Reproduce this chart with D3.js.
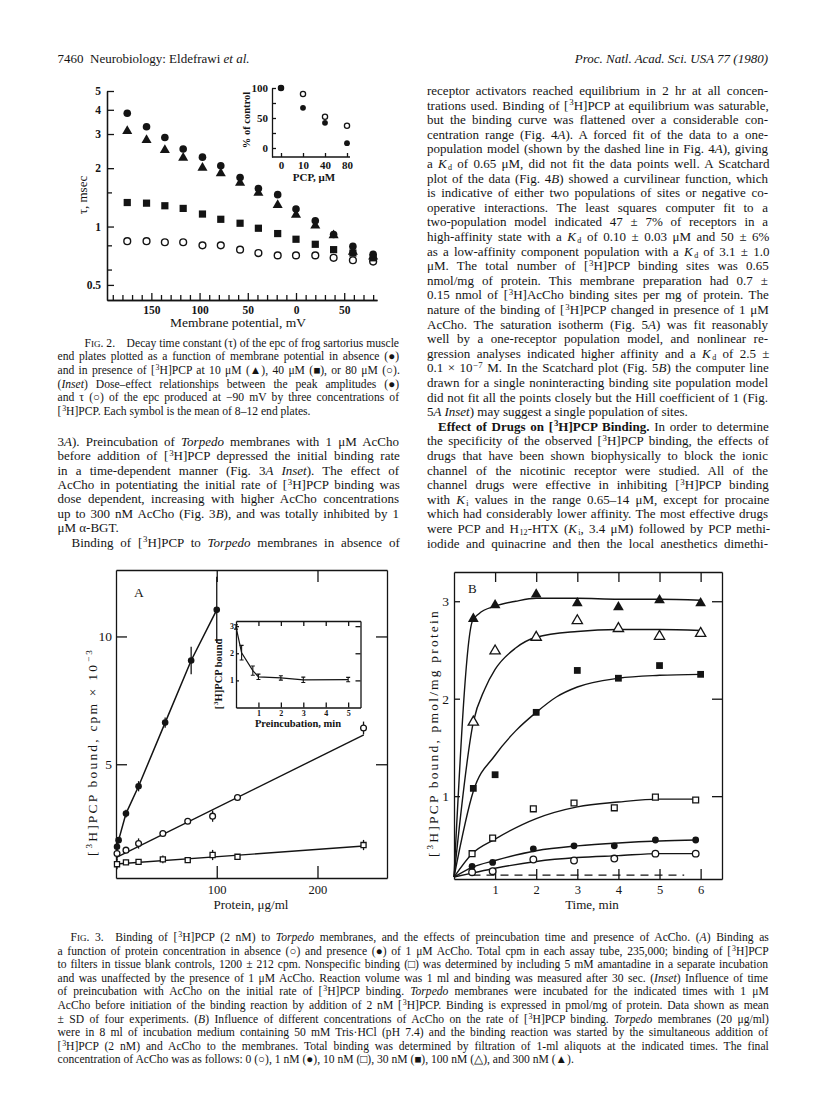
<!DOCTYPE html>
<html><head><meta charset="utf-8">
<script src="https://cdn.jsdelivr.net/npm/d3@7/dist/d3.min.js"></script>
<style>html,body{margin:0;padding:0;background:#fff;} svg{display:block;}</style>
</head><body>
<svg id="page" width="816" height="1109" xmlns="http://www.w3.org/2000/svg"></svg>
<script>
// ================= DATA =================
// Fig. 2: decay time constant tau (msec) vs membrane potential (mV)
const fig2Potential = [-175,-155,-136,-117,-97,-78,-58,-39,-19,0,20,39,59,80];
const fig2Control   = [3.84,3.27,2.88,2.51,2.28,2.06,1.79,1.57,1.46,1.23,1.07,0.91,0.79,0.72];
const fig2PCP10     = [3.11,2.79,2.48,2.26,2.01,1.88,1.68,1.49,1.29,1.15,1.01,0.90,0.74,0.70];
const fig2PCP40     = [1.33,1.32,1.28,1.24,1.16,1.09,1.04,0.98,0.92,0.86,0.81,0.76,0.73,0.69];
const fig2PCP80     = [0.84,0.84,0.83,0.83,0.80,0.80,0.76,0.73,0.71,0.71,0.71,0.69,0.67,0.66];
const fig2YTicks = [0.5,1,2,3,4,5];
const fig2YMinor = [0.6,0.8,1.5];
const fig2XTicks = [-150,-100,-50,0,50];
// Fig. 2 inset: % of control vs PCP (uM)
const insetDose = ["0","10","40","80"];
const insetAmplitude = [100,67,42,8];
const insetTau = [100,90,52,37];
const insetYTicks = [0,25,50,75,100];

// Fig. 3A: [3H]PCP bound (cpm x 10^-3) vs protein (ug/ml)
const proteinAcCho = [1,2.6,9.9,22.4,48.8,74.6,100];
const boundAcCho   = [1.77,2.03,3.07,4.14,6.63,9.06,11.04];
const sdAcCho      = [0.12,0.12,0.15,0.2,0.2,0.54,1.3];
const proteinCtrl  = [1,9.9,22.4,46.5,71.2,95.9,120.6,245.7];
const boundCtrl    = [1.51,1.64,1.90,2.29,2.77,2.97,3.70,6.42];
const sdCtrl       = [0.25,0.08,0.2,0.08,0.1,0.22,0.1,0.25];
const boundNonspec = [1.09,1.16,1.18,1.28,1.25,1.45,1.38,1.84];
const sdNonspec    = [0.2,0.1,0.1,0.15,0.08,0.2,0.08,0.2];
const fitCtrl      = [[0,1.35],[246,6.15]];
const fitNonspec   = [[0,1.10],[246,1.80]];
const fig3AYTicks = [5,10];
const fig3AXTicks = [100,200];
// Fig. 3A inset: bound vs preincubation (min)
const preincTime  = [0,0.25,0.75,1,2,3,5];
const preincBound = [2.97,2.02,1.36,1.13,1.09,1.02,1.03];
const preincSD    = [0.08,0.27,0.17,0.1,0.08,0.1,0.08];
const insetAXTicks = [1,2,3,4,5];
const insetAYTicks = [1,2,3];

// Fig. 3B: bound (pmol/mg) vs time (min) at AcCho concentrations
const timeUpper = [0.47,1,2,3,4,5,6];
const timeLower = [0.44,0.94,1.93,2.92,3.9,4.9,5.88];
const b300 = [2.82,2.96,3.07,2.98,2.94,3.01,2.98];
const b100 = [1.76,2.49,2.63,2.80,2.72,2.64,2.67];
const b30  = [1.08,1.22,1.86,2.29,2.21,2.34,2.25];
const b10  = [0.41,0.57,0.87,0.93,0.88,0.99,0.96];
const b1   = [0.28,0.32,0.46,0.49,0.49,0.55,0.55];
const b0   = [0.22,0.23,0.35,0.34,0.36,0.41,0.41];
const curve300 = [[0,0.17],[0.45,2.8],[0.6,2.87],[1,2.95],[1.5,3.0],[2,3.03],[3,3.03],[4,3.02],[5,3.02],[6,3.01]];
const curve100 = [[0,0.17],[0.47,1.76],[0.75,2.1],[1,2.3],[1.5,2.52],[2,2.63],[3,2.69],[4,2.71],[5,2.71],[6,2.7]];
const curve30  = [[0,0.17],[0.47,1.05],[1,1.42],[1.5,1.67],[2,1.86],[2.5,2.02],[3,2.12],[4,2.21],[5,2.24],[6,2.25]];
const curve10  = [[0,0.17],[0.44,0.41],[1,0.56],[2,0.77],[3,0.89],[4,0.94],[5,0.97],[5.9,0.97]];
const curve1   = [[0,0.17],[0.44,0.27],[1,0.34],[2,0.44],[3,0.49],[4,0.52],[5,0.54],[5.9,0.55]];
const curve0   = [[0,0.17],[0.44,0.21],[1,0.26],[2,0.33],[3,0.37],[4,0.39],[5,0.41],[5.9,0.41]];
const blankLine = [[0.45,0.19],[5.6,0.19]];
const fig3BXTicks = [1,2,3,4,5,6];
const fig3BYTicks = [1,2,3];

// ================= TEXT =================
const leftColumn = [
"3*A*). Preincubation of *Torpedo* membranes with 1 μM AcCho",
"before addition of [^3^H]PCP depressed the initial binding rate",
"in a time-dependent manner (Fig. 3*A Inset*). The effect of",
"AcCho in potentiating the initial rate of [^3^H]PCP binding was",
"dose dependent, increasing with higher AcCho concentrations",
"up to 300 nM AcCho (Fig. 3*B*), and was totally inhibited by 1",
"μM α-BGT.",
"Binding of [^3^H]PCP to *Torpedo* membranes in absence of"
];
const leftEnds = [6], leftIndents = [7];
const rightColumn = [
"receptor activators reached equilibrium in 2 hr at all concen-",
"trations used. Binding of [^3^H]PCP at equilibrium was saturable,",
"but the binding curve was flattened over a considerable con-",
"centration range (Fig. 4*A*). A forced fit of the data to a one-",
"population model (shown by the dashed line in Fig. 4*A*), giving",
"a *K*_d_ of 0.65 μM, did not fit the data points well. A Scatchard",
"plot of the data (Fig. 4*B*) showed a curvilinear function, which",
"is indicative of either two populations of sites or negative co-",
"operative interactions. The least squares computer fit to a",
"two-population model indicated 47 ± 7% of receptors in a",
"high-affinity state with a *K*_d_ of 0.10 ± 0.03 μM and 50 ± 6%",
"as a low-affinity component population with a *K*_d_ of 3.1 ± 1.0",
"μM. The total number of [^3^H]PCP binding sites was 0.65",
"nmol/mg of protein. This membrane preparation had 0.7 ±",
"0.15 nmol of [^3^H]AcCho binding sites per mg of protein. The",
"nature of the binding of [^3^H]PCP changed in presence of 1 μM",
"AcCho. The saturation isotherm (Fig. 5*A*) was fit reasonably",
"well by a one-receptor population model, and nonlinear re-",
"gression analyses indicated higher affinity and a *K*_d_ of 2.5 ±",
"0.1 × 10^−7^ M. In the Scatchard plot (Fig. 5*B*) the computer line",
"drawn for a single noninteracting binding site population model",
"did not fit all the points closely but the Hill coefficient of 1 (Fig.",
"5*A Inset*) may suggest a single population of sites.",
"#Effect of Drugs on [^3^H]PCP Binding.# In order to determine",
"the specificity of the observed [^3^H]PCP binding, the effects of",
"drugs that have been shown biophysically to block the ionic",
"channel of the nicotinic receptor were studied. All of the",
"channel drugs were effective in inhibiting [^3^H]PCP binding",
"with *K*_i_ values in the range 0.65–14 μM, except for procaine",
"which had considerably lower affinity. The most effective drugs",
"were PCP and H_12_-HTX (*K*_i_, 3.4 μM) followed by PCP methi-",
"iodide and quinacrine and then the local anesthetics dimethi-"
];
const rightEnds = [22], rightIndents = [23];
const fig2Caption = [
"F~IG~. 2.\u2003Decay time constant (τ) of the epc of frog sartorius muscle",
"end plates plotted as a function of membrane potential in absence (●)",
"and in presence of [^3^H]PCP at 10 μM (▲), 40 μM (■), or 80 μM (○).",
"(*Inset*) Dose–effect relationships between the peak amplitudes (●)",
"and τ (○) of the epc produced at −90 mV by three concentrations of",
"[^3^H]PCP. Each symbol is the mean of 8–12 end plates."
];
const fig3Caption = [
"F~IG~. 3.\u2003Binding of [^3^H]PCP (2 nM) to *Torpedo* membranes, and the effects of preincubation time and presence of AcCho. (*A*) Binding as",
"a function of protein concentration in absence (○) and presence (●) of 1 μM AcCho. Total cpm in each assay tube, 235,000; binding of [^3^H]PCP",
"to filters in tissue blank controls, 1200 ± 212 cpm. Nonspecific binding (□) was determined by including 5 mM amantadine in a separate incubation",
"and was unaffected by the presence of 1 μM AcCho. Reaction volume was 1 ml and binding was measured after 30 sec. (*Inset*) Influence of time",
"of preincubation with AcCho on the initial rate of [^3^H]PCP binding. *Torpedo* membranes were incubated for the indicated times with 1 μM",
"AcCho before initiation of the binding reaction by addition of 2 nM [^3^H]PCP. Binding is expressed in pmol/mg of protein. Data shown as mean",
"± SD of four experiments. (*B*) Influence of different concentrations of AcCho on the rate of [^3^H]PCP binding. *Torpedo* membranes (20 μg/ml)",
"were in 8 ml of incubation medium containing 50 mM Tris·HCl (pH 7.4) and the binding reaction was started by the simultaneous addition of",
"[^3^H]PCP (2 nM) and AcCho to the membranes. Total binding was determined by filtration of 1-ml aliquots at the indicated times. The final",
"concentration of AcCho was as follows: 0 (○), 1 nM (●), 10 nM (□), 30 nM (■), 100 nM (△), and 300 nM (▲)."
];

// ================= DRAWING =================
const SERIF = '"Liberation Serif","Times New Roman",serif';
const INK = "#141414";
const svg = d3.select("#page");
svg.append("rect").attr("width",816).attr("height",1109).attr("fill","#fff");

function rich(parent, str, x, y, o = {}) {
  const size = o.size || 12.5;
  const t = parent.append("text").attr("x", x).attr("y", y)
    .style("font-family", SERIF).style("font-size", size + "px").attr("fill", INK);
  if (o.anchor) t.attr("text-anchor", o.anchor);
  if (o.italic) t.style("font-style", "italic");
  if (o.weight) t.style("font-weight", o.weight);
  if (o.spacing) t.style("letter-spacing", o.spacing + "px");
  const st = {i:false,b:false,sup:false,sub:false,sc:false};
  let cur = 0, buf = "", prevItalic = false;
  const flush = () => {
    if (!buf) return;
    const sp = t.append("tspan").text(buf);
    if (st.i) sp.style("font-style", "italic");
    if (st.b) sp.style("font-weight", "bold");
    let fs = size, off = 0;
    if (st.sup) { fs = size * 0.68; off = -0.34 * size; }
    else if (st.sub) { fs = size * 0.62; off = 0.15 * size; }
    else if (st.sc) { fs = size * 0.78; }
    sp.style("font-size", fs + "px");
    if (off !== cur) { sp.attr("dy", off - cur); cur = off; }
    if (st.sup) sp.attr("dx", 0.8);
    if (st.sub) sp.attr("dx", prevItalic ? 1.4 : 0.8);
    prevItalic = st.i;
    buf = "";
  };
  for (const ch of str) {
    const k = {"*":"i","#":"b","^":"sup","_":"sub","~":"sc"}[ch];
    if (k) { flush(); st[k] = !st[k]; } else buf += ch;
  }
  flush();
  if (o.justify) {
    const w = t.node().getComputedTextLength();
    const n = (t.text().match(/ /g) || []).length;
    if (n > 0) t.style("word-spacing", ((o.justify - w) / n) + "px");
  }
  return t;
}

function paragraph(lines, x0, x1, y0, step, size, ends, indents, indentW) {
  lines.forEach((s, i) => {
    const ind = indents.includes(i) ? indentW : 0;
    const last = ends.includes(i);
    rich(svg, s, x0 + ind, y0 + i * step, {size, justify: last ? null : (x1 - x0 - ind)});
  });
}

function styleAxis(sel, fs, weight) {
  sel.select(".domain").attr("stroke", INK).attr("stroke-width", 1.3);
  sel.selectAll(".tick line").attr("stroke", INK).attr("stroke-width", 1.3);
  sel.selectAll(".tick text").style("font-family", SERIF).style("font-size", fs + "px")
     .style("font-weight", weight || "normal").attr("fill", INK);
  return sel;
}
const sym = (type, size) => d3.symbol().type(type).size(size)();
const plain = d => String(d);

// ---------- header ----------
rich(svg, "7460", 57.5, 63, {size: 13});
rich(svg, "Neurobiology: Eldefrawi *et al.*", 90, 63, {size: 13});
rich(svg, "Proc. Natl. Acad. Sci. USA 77 (1980)", 768, 63, {size: 13, anchor: "end", italic: true});

// ---------- Fig. 2 ----------
{
  const g = svg.append("g");
  const x = d3.scaleLinear().domain([-196, 84]).range([107, 377]);
  const y = d3.scaleLog().domain([0.418, 5]).range([300, 91]);
  styleAxis(g.append("g").attr("transform", "translate(0,300)")
    .call(d3.axisBottom(x).tickValues(d3.range(-190, 81, 10).filter(v => !fig2XTicks.includes(v)))
      .tickSize(-5).tickSizeOuter(0).tickFormat("")), 11);
  styleAxis(g.append("g").attr("transform", "translate(0,300)")
    .call(d3.axisBottom(x).tickValues(fig2XTicks).tickSize(-7).tickSizeOuter(0).tickPadding(6)
      .tickFormat(d => Math.abs(d))), 11.5, "bold");
  styleAxis(g.append("g").attr("transform", "translate(107,0)")
    .call(d3.axisLeft(y).tickValues(fig2YMinor).tickSize(-5).tickSizeOuter(0).tickFormat("")), 11);
  styleAxis(g.append("g").attr("transform", "translate(107,0)")
    .call(d3.axisLeft(y).tickValues(fig2YTicks).tickSize(-7).tickSizeOuter(0).tickPadding(6)
      .tickFormat(plain)), 11.5, "bold");

  const pts = arr => arr.map((v, i) => [x(fig2Potential[i]), y(v)]);
  g.selectAll(null).data(pts(fig2PCP80)).join("circle").attr("cx", d => d[0]).attr("cy", d => d[1])
    .attr("r", 3.4).attr("fill", "#fff").attr("stroke", INK).attr("stroke-width", 1.4);
  g.selectAll(null).data(pts(fig2PCP40)).join("path").attr("d", sym(d3.symbolSquare, 52))
    .attr("transform", d => `translate(${d[0]},${d[1]})`).attr("fill", INK);
  g.selectAll(null).data(pts(fig2PCP10)).join("path").attr("d", sym(d3.symbolTriangle, 44))
    .attr("transform", d => `translate(${d[0]},${d[1]})`).attr("fill", INK);
  g.selectAll(null).data(pts(fig2Control)).join("circle").attr("cx", d => d[0]).attr("cy", d => d[1])
    .attr("r", 3.8).attr("fill", INK);

  rich(g, "τ, msec", 0, 0, {size: 13, anchor: "middle"}).attr("transform", "translate(87,195) rotate(-90)");
  rich(g, "Membrane potential, mV", 238, 327, {size: 13.5, anchor: "middle"});

  // inset
  const ix = d3.scalePoint().domain(insetDose).range([281, 347]);
  const iy = d3.scaleLinear().domain([-15, 100]).range([157, 88]);
  styleAxis(g.append("g").attr("transform", "translate(272,0)")
    .call(d3.axisLeft(iy).tickValues(insetYTicks).tickSize(-4).tickSizeOuter(0).tickPadding(4)
      .tickFormat(d => d % 50 === 0 ? d : "")), 11, "bold");
  const xa = styleAxis(g.append("g").attr("transform", "translate(0,157)")
    .call(d3.axisBottom(ix).tickSize(-4).tickSizeOuter(0).tickPadding(4)), 11, "bold");
  xa.select(".domain").remove();
  g.append("line").attr("x1", 272).attr("x2", 350).attr("y1", 157).attr("y2", 157)
    .attr("stroke", INK).attr("stroke-width", 1.3);
  g.selectAll(null).data(insetTau).join("circle").attr("cx", (d, i) => ix(insetDose[i])).attr("cy", d => iy(d))
    .attr("r", 2.6).attr("fill", "#fff").attr("stroke", INK).attr("stroke-width", 1.3);
  g.selectAll(null).data(insetAmplitude).join("circle").attr("cx", (d, i) => ix(insetDose[i])).attr("cy", d => iy(d))
    .attr("r", 2.9).attr("fill", INK);
  rich(g, "% of control", 0, 0, {size: 10.5, anchor: "middle", weight: "bold"}).attr("transform", "translate(250,120) rotate(-90)");
  rich(g, "PCP, μM", 314, 181, {size: 11, anchor: "middle", weight: "bold"});
}

// Fig 2 caption
paragraph(fig2Caption, 57.5, 399, 346.7, 13.6, 11.6, [5], [0], 27);
// left column body
paragraph(leftColumn, 57.5, 399, 445.8, 14.4, 13, leftEnds, leftIndents, 14);
// right column body
paragraph(rightColumn, 427, 768, 95, 14.6, 13, rightEnds, rightIndents, 11);

// ---------- Fig. 3A ----------
{
  const g = svg.append("g");
  const x = d3.scaleLinear().domain([0, 269]).range([116, 387]);
  const y = d3.scaleLinear().domain([0.55, 12.6]).range([878, 570]);
  styleAxis(g.append("g").attr("transform", "translate(0,878)")
    .call(d3.axisBottom(x).tickValues(fig3AXTicks).tickSize(-12).tickSizeOuter(0).tickPadding(7).tickFormat(plain)), 12.5);
  styleAxis(g.append("g").attr("transform", "translate(0,570)")
    .call(d3.axisTop(x).tickValues(fig3AXTicks).tickSize(-12).tickSizeOuter(0).tickFormat("")), 12);
  styleAxis(g.append("g").attr("transform", "translate(116,0)")
    .call(d3.axisLeft(y).tickValues(fig3AYTicks).tickSize(-11).tickSizeOuter(0).tickPadding(4).tickFormat(plain)), 13.5);
  styleAxis(g.append("g").attr("transform", "translate(387,0)")
    .call(d3.axisRight(y).tickValues(fig3AYTicks).tickSize(-11).tickSizeOuter(0).tickFormat("")), 12);

  const line = d3.line().x(d => x(d[0])).y(d => y(d[1]));
  g.append("path").attr("d", line(fitCtrl)).attr("fill", "none").attr("stroke", INK).attr("stroke-width", 1.4);
  g.append("path").attr("d", line(fitNonspec)).attr("fill", "none").attr("stroke", INK).attr("stroke-width", 1.4);
  g.append("path").attr("d", line(proteinAcCho.map((p, i) => [p, boundAcCho[i]])))
    .attr("fill", "none").attr("stroke", INK).attr("stroke-width", 1.5);

  const errbars = (xs, ys, sds) => g.selectAll(null).data(ys).join("line")
    .attr("x1", (d, i) => x(xs[i])).attr("x2", (d, i) => x(xs[i]))
    .attr("y1", (d, i) => y(d - sds[i])).attr("y2", (d, i) => y(d + sds[i]))
    .attr("stroke", INK).attr("stroke-width", 1.3);
  errbars(proteinAcCho, boundAcCho, sdAcCho);
  errbars(proteinCtrl, boundCtrl, sdCtrl);
  errbars(proteinCtrl, boundNonspec, sdNonspec);

  g.selectAll(null).data(boundNonspec).join("path").attr("d", sym(d3.symbolSquare, 26))
    .attr("transform", (d, i) => `translate(${x(proteinCtrl[i])},${y(d)})`)
    .attr("fill", "#fff").attr("stroke", INK).attr("stroke-width", 1.3);
  g.selectAll(null).data(boundCtrl).join("circle").attr("cx", (d, i) => x(proteinCtrl[i])).attr("cy", d => y(d))
    .attr("r", 2.9).attr("fill", "#fff").attr("stroke", INK).attr("stroke-width", 1.3);
  g.selectAll(null).data(boundAcCho).join("circle").attr("cx", (d, i) => x(proteinAcCho[i])).attr("cy", d => y(d))
    .attr("r", 3.3).attr("fill", INK);

  rich(g, "A", 134, 597, {size: 13.5});
  rich(g, "[^3^H]PCP bound, cpm × 10^−3^", 0, 0, {size: 13.5, anchor: "middle", spacing: 2.2})
    .attr("transform", "translate(97,752) rotate(-90)");
  rich(g, "Protein, μg/ml", 251, 909, {size: 13, anchor: "middle"});

  // inset
  const ix = d3.scaleLinear().domain([0, 5.55]).range([236, 360.5]);
  const iy = d3.scaleLinear().domain([0, 3.19]).range([707.5, 621]);
  styleAxis(g.append("g").attr("transform", "translate(0,707.5)")
    .call(d3.axisBottom(ix).tickValues(insetAXTicks).tickSize(-5).tickSizeOuter(0).tickPadding(3).tickFormat(plain)), 8, "bold");
  styleAxis(g.append("g").attr("transform", "translate(0,621)")
    .call(d3.axisTop(ix).tickValues(insetAXTicks).tickSize(-5).tickSizeOuter(0).tickFormat("")), 8);
  styleAxis(g.append("g").attr("transform", "translate(236,0)")
    .call(d3.axisLeft(iy).tickValues(insetAYTicks).tickSize(-3).tickSizeOuter(0).tickPadding(2).tickFormat(plain)), 8, "bold");
  styleAxis(g.append("g").attr("transform", "translate(360.5,0)")
    .call(d3.axisRight(iy).tickValues(insetAYTicks).tickSize(-5).tickSizeOuter(0).tickFormat("")), 8);
  g.append("path").attr("d", d3.line().x(d => ix(d[0])).y(d => iy(d[1]))(preincTime.map((t, i) => [t, preincBound[i]])))
    .attr("fill", "none").attr("stroke", INK).attr("stroke-width", 1.2);
  preincTime.forEach((t, i) => {
    const cx = ix(t), y1 = iy(preincBound[i] - preincSD[i]), y2 = iy(preincBound[i] + preincSD[i]);
    g.append("path").attr("d", `M${cx},${y1}V${y2}M${cx - 2},${y1}H${cx + 2}M${cx - 2},${y2}H${cx + 2}`)
      .attr("stroke", INK).attr("stroke-width", 1.1).attr("fill", "none");
  });
  rich(g, "[^3^H]PCP bound", 0, 0, {size: 10.5, anchor: "middle", weight: "bold"}).attr("transform", "translate(222,674) rotate(-90)");
  rich(g, "Preincubation, min", 298, 727, {size: 10.5, anchor: "middle", weight: "bold"});
}

// ---------- Fig. 3B ----------
{
  const g = svg.append("g");
  const x = d3.scaleLinear().domain([0, 6.52]).range([454, 722]);
  const y = d3.scaleLinear().domain([0.15, 3.3]).range([879, 572]);
  styleAxis(g.append("g").attr("transform", "translate(0,879)")
    .call(d3.axisBottom(x).tickValues(fig3BXTicks).tickSize(-10).tickSizeOuter(0).tickPadding(6).tickFormat(plain)), 12.5);
  styleAxis(g.append("g").attr("transform", "translate(0,572)")
    .call(d3.axisTop(x).tickValues(fig3BXTicks).tickSize(-10).tickSizeOuter(0).tickFormat("")), 12);
  styleAxis(g.append("g").attr("transform", "translate(454,0)")
    .call(d3.axisLeft(y).tickValues(fig3BYTicks).tickSize(-6).tickSizeOuter(0).tickPadding(5).tickFormat(plain)), 13.5);
  styleAxis(g.append("g").attr("transform", "translate(722,0)")
    .call(d3.axisRight(y).tickValues(fig3BYTicks).tickSize(-10).tickSizeOuter(0).tickFormat("")), 12);

  const curve = d3.line().x(d => x(d[0])).y(d => y(d[1])).curve(d3.curveMonotoneX);
  [curve300, curve100, curve30, curve10, curve1, curve0].forEach(c =>
    g.append("path").attr("d", curve(c)).attr("fill", "none").attr("stroke", INK).attr("stroke-width", 1.4));
  g.append("path").attr("d", d3.line().x(d => x(d[0])).y(d => y(d[1]))(blankLine))
    .attr("fill", "none").attr("stroke", INK).attr("stroke-width", 1.4).attr("stroke-dasharray", "8,6");

  const place = (vals, ts) => vals.map((v, i) => [x(ts[i]), y(v)]);
  g.selectAll(null).data(place(b0, timeLower)).join("circle").attr("cx", d => d[0]).attr("cy", d => d[1])
    .attr("r", 3.3).attr("fill", "#fff").attr("stroke", INK).attr("stroke-width", 1.3);
  g.selectAll(null).data(place(b1, timeLower)).join("circle").attr("cx", d => d[0]).attr("cy", d => d[1])
    .attr("r", 3.4).attr("fill", INK);
  g.selectAll(null).data(place(b10, timeLower)).join("path").attr("d", sym(d3.symbolSquare, 34))
    .attr("transform", d => `translate(${d[0]},${d[1]})`).attr("fill", "#fff").attr("stroke", INK).attr("stroke-width", 1.3);
  g.selectAll(null).data(place(b30, timeUpper)).join("path").attr("d", sym(d3.symbolSquare, 46))
    .attr("transform", d => `translate(${d[0]},${d[1]})`).attr("fill", INK);
  g.selectAll(null).data(place(b100, timeUpper)).join("path").attr("d", sym(d3.symbolTriangle, 46))
    .attr("transform", d => `translate(${d[0]},${d[1]})`).attr("fill", "#fff").attr("stroke", INK).attr("stroke-width", 1.3);
  g.selectAll(null).data(place(b300, timeUpper)).join("path").attr("d", sym(d3.symbolTriangle, 50))
    .attr("transform", d => `translate(${d[0]},${d[1]})`).attr("fill", INK);

  rich(g, "B", 468, 593, {size: 13});
  rich(g, "[^3^H]PCP bound, pmol/mg protein", 0, 0, {size: 13.5, anchor: "middle", spacing: 2.2})
    .attr("transform", "translate(438,733) rotate(-90)");
  rich(g, "Time, min", 592, 909, {size: 13, anchor: "middle"});
}

// Fig 3 caption
paragraph(fig3Caption, 57.5, 768, 941, 13.6, 11.6, [9], [0], 13);
</script>
</body></html>
